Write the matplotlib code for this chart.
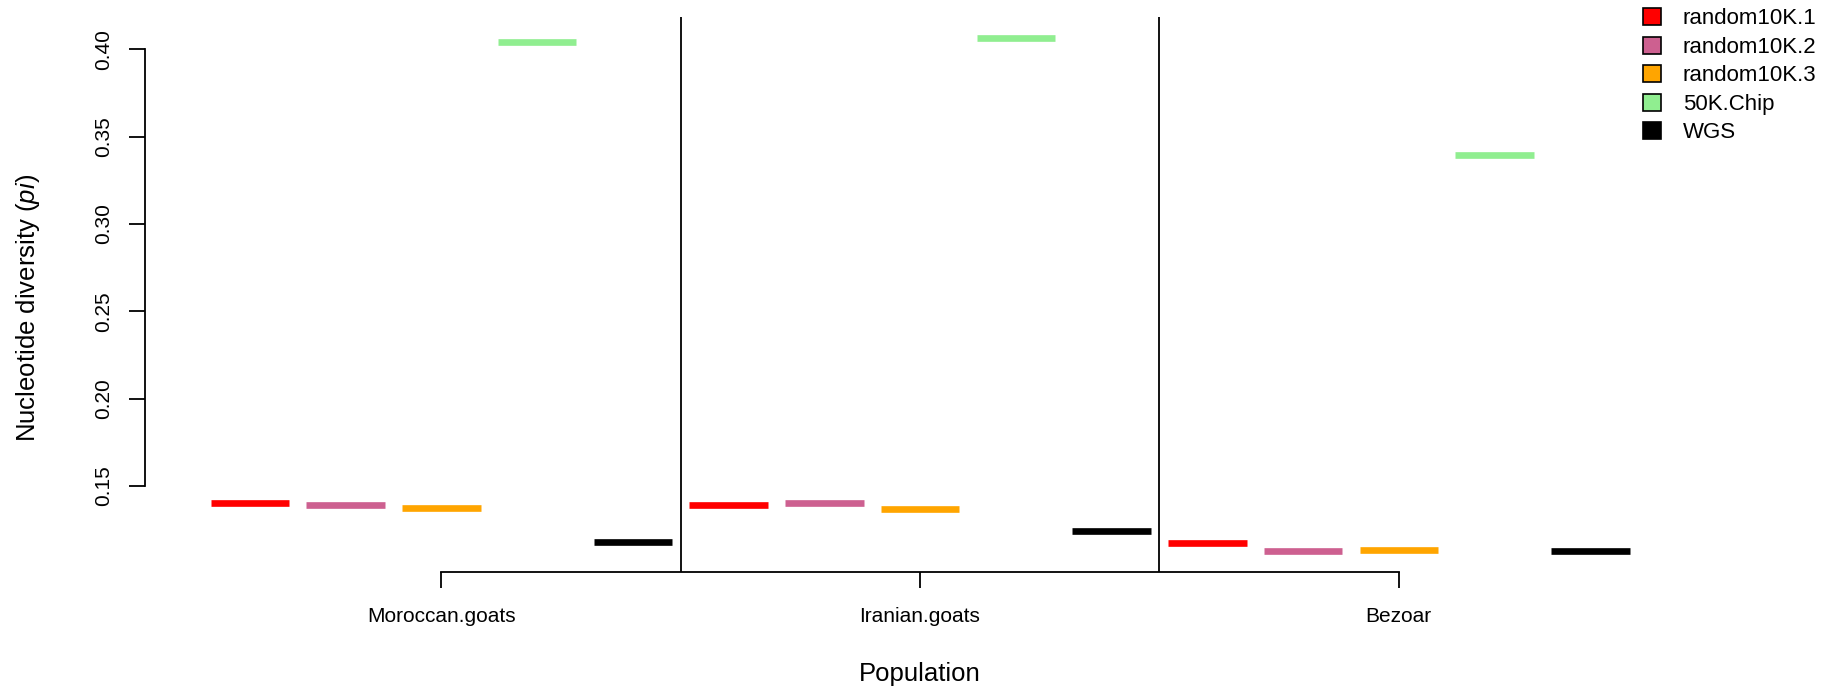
import numpy as np
import matplotlib
matplotlib.use("Agg")
import matplotlib.pyplot as plt
from matplotlib.patches import Patch

plt.rcParams['font.family'] = ['Liberation Sans', 'DejaVu Sans']
plt.rcParams['mathtext.fontset'] = 'custom'
plt.rcParams['mathtext.it'] = 'Liberation Sans:italic'
plt.rcParams['mathtext.rm'] = 'Liberation Sans'

# values (nucleotide diversity, pi)
populations = ['Moroccan.goats', 'Iranian.goats', 'Bezoar']
panels = ['random10K.1', 'random10K.2', 'random10K.3', '50K.Chip', 'WGS']
colours = ['#FF0000', '#CD6090', '#FFA500', '#90EE90', '#000000']
moroccan = [0.1401, 0.1392, 0.1374, 0.4044, 0.1180]
iranian = [0.1392, 0.1402, 0.1365, 0.4067, 0.1242]
bezoar = [0.1173, 0.1126, 0.1134, 0.3395, 0.1126]
yticks = [0.15, 0.20, 0.25, 0.30, 0.35, 0.40]

W, H = 1843, 691
fig = plt.figure(figsize=(W / 100, H / 100), dpi=100)
ax = fig.add_axes([144.5 / W, 1 - 571.7 / H, (1695.6 - 144.5) / W, (571.7 - 17.1) / H])

nser = len(panels)
allvals = np.array([moroccan, iranian, bezoar])
pos = np.arange(1, allvals.size + 1)
cols = colours * len(populations)
ax.hlines(allvals.ravel(), pos - 0.41, pos + 0.41, colors=cols, linewidth=4.8, capstyle='butt')

# separators between populations
for k in range(1, len(populations)):
    ax.axvline(k * nser + 0.5, color='black', linewidth=1.3)

# R-like limits (4% padding)
lo, hi = allvals.min(), allvals.max()
pad = 0.04 * (hi - lo)
ax.set_ylim(lo - pad, hi + pad)
xpad = 0.04 * allvals.size
ax.set_xlim(0.5 - xpad, allvals.size + 0.5 + xpad)

centres = [k * nser + 3 for k in range(len(populations))]
ax.set_xticks(centres)
ax.set_xticklabels(populations, fontsize=15)
ax.set_yticks(yticks)
ax.set_yticklabels(['%.2f' % v for v in yticks], fontsize=15)
for lab in ax.get_yticklabels():
    lab.set_rotation(90)
    lab.set_va('center')
    lab.set_ha('right')

for s in ['top', 'right']:
    ax.spines[s].set_visible(False)
ax.spines['left'].set_bounds(yticks[0], yticks[-1])
ax.spines['bottom'].set_bounds(centres[0], centres[-1])
for s in ['left', 'bottom']:
    ax.spines[s].set_linewidth(1.3)
ax.tick_params(axis='both', length=11.5, width=1.3)
ax.tick_params(axis='y', pad=11)
ax.tick_params(axis='x', pad=14)

ax.set_xlabel('Population', fontsize=18.5)
ax.xaxis.set_label_coords(0.5, -0.185)
ax.xaxis.label.set_va('center')
ax.set_ylabel(r'Nucleotide diversity $\it{(pi)}$', fontsize=18.5)
ax.yaxis.set_label_coords(-0.0751, 0.475)
ax.yaxis.label.set_va('center')

handles = [Patch(facecolor=c, edgecolor='black', linewidth=1.2) for c in colours]
fig.legend(handles, panels, loc='upper left', bbox_to_anchor=(1643 / W, 1 - 8 / H),
           frameon=False, fontsize=16, handlelength=0.8, handleheight=0.8,
           handletextpad=1.0, labelspacing=0.33, borderpad=0, borderaxespad=0)

fig.savefig('out.png', dpi=100)
